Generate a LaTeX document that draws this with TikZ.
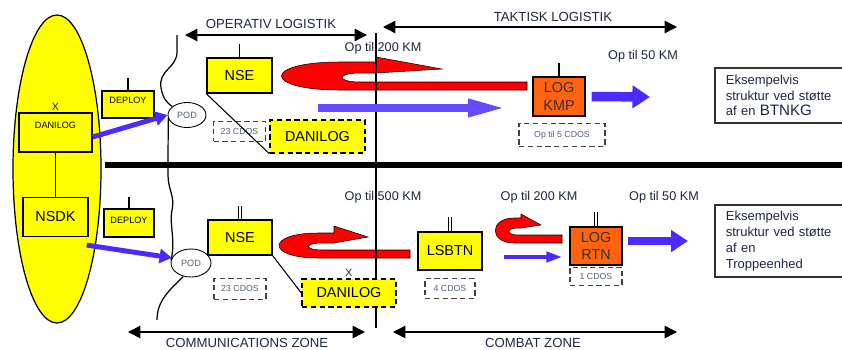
\documentclass[tikz,border=0pt]{standalone}
\usepackage{fontspec}
\setmainfont{Liberation Sans}
\usetikzlibrary{positioning,arrows.meta,calc,shapes.geometric}
\definecolor{ink}{HTML}{1F2740}
\definecolor{ink2}{HTML}{55627F}
\definecolor{lemon}{HTML}{FFFF00}
\definecolor{tangerine}{HTML}{FF6310}
\definecolor{signal}{HTML}{FF0000}
\definecolor{violet}{HTML}{4A2BFF}
\tikzset{
  ybox/.style={draw=black, line width=0.8pt, fill=lemon, inner sep=1pt,
    align=center, text=black, font=\fontsize{8.2pt}{10pt}\selectfont},
  obox/.style={draw=black, line width=0.8pt, fill=tangerine, inner sep=1pt,
    align=center, text=black!80, font=\fontsize{8.2pt}{10pt}\selectfont},
  dbox/.style={ybox, dash pattern=on 3pt off 2pt},
  sbox/.style={ybox, font=\fontsize{5.2pt}{6pt}\selectfont},
  cbox/.style={draw=black!75, line width=0.8pt, dash pattern=on 3pt off 2pt, fill=white,
    inner sep=1pt, text=ink2, font=\fontsize{5pt}{6pt}\selectfont},
  pod/.style={ellipse, draw=black, line width=0.5pt, fill=white, inner sep=0pt,
    text=ink2, font=\fontsize{5.2pt}{6pt}\selectfont},
  note/.style={draw=black!80, line width=1pt, fill=white, anchor=west, align=left,
    inner xsep=0.22cm, inner ysep=2pt, text width=2.4cm, text=ink,
    font=\fontsize{7.4pt}{9pt}\selectfont},
  zone/.style={{Triangle[length=7pt,width=7pt]}-{Triangle[length=7pt,width=7pt]}, line width=0.8pt},
  barrow/.style={-{Triangle[length=7pt,width=8pt]}, line width=2.8pt, color=violet},
  redarr/.style={fill=signal, draw=black, line width=0.3pt},
  lab/.style={font=\fontsize{7.2pt}{8pt}\selectfont, text=ink},
  zlab/.style={font=\fontsize{7.5pt}{8pt}\selectfont, text=ink},
  xlab/.style={inner sep=0.8pt, font=\fontsize{6pt}{6pt}\selectfont, text=ink},
  wave/.style={line width=0.7pt},
  tick/.style={line width=0.6pt},
  dtick/.style={draw=black, double=white, double distance=1.1pt, line width=0.45pt},
}

\begin{document}
\begin{tikzpicture}[x=0.02cm, y=-0.02cm]
  \fill[white] (0,0) rectangle (842,349);
  \useasboundingbox (0,0) rectangle (842,349);

  % left column
  \fill[lemon, draw=black, line width=0.7pt] (57,169) ellipse [x radius=44, y radius=154];
  \draw[line width=3.4pt] (105,165) -- (850,165);

  % red supply loops
  \draw[redarr] (527,82) -- (360,82) .. controls (336,82) and (336,73) .. (360,73) -- (376,73)
    -- (442,69) -- (376,57) -- (376,62) -- (340,62) .. controls (262,62) and (262,90) .. (340,90)
    -- (527,90) -- cycle;
  \draw[redarr] (410,250) -- (322,250) .. controls (304,250) and (304,243) .. (322,243) -- (334,243)
    -- (368,237) -- (334,226) -- (334,233) -- (318,233) .. controls (266,233) and (266,258) .. (318,258)
    -- (410,258) -- cycle;
  \draw[redarr] (562,235) -- (518,235) .. controls (506,235) and (506,228) .. (518,228) -- (521,228)
    -- (541,225) -- (521,214) -- (521,218) -- (514,218) .. controls (489,218) and (489,243) .. (514,243)
    -- (562,243) -- cycle;

  \draw[line width=0.7pt] (376,33) -- (376,328);

  \node[sbox, minimum width=1.46cm, minimum height=0.78cm, text height=3.7pt, text depth=8.7pt,
    label={[xlab]above:X}] (dlog1) at (55.5,132.5) {DANILOG};
  \node[ybox, minimum width=1.3cm, minimum height=0.78cm, below=0.88cm of dlog1] (nsdk) {NSDK};
  \node[sbox, minimum width=1.04cm, minimum height=0.54cm, text height=3.7pt, text depth=5.1pt]
    (deploy1) at (128,104.5) {DEPLOY};
  \node[sbox, minimum width=1.0cm, minimum height=0.56cm, text height=3.7pt, text depth=3.4pt]
    (deploy2) at (129,223) {DEPLOY};
  \node[pod, minimum width=0.76cm, minimum height=0.5cm] (pod1) at (187,115) {POD};
  \node[pod, minimum width=0.8cm, minimum height=0.56cm] (pod2) at (191,263) {POD};

  \node[ybox, minimum width=1.3cm, minimum height=0.7cm] (nse1) at (239.5,75.5) {NSE};
  \node[cbox, minimum width=1.04cm, minimum height=0.4cm, below=0.54cm of nse1] (cdos1) {23 CDOS};
  \node[ybox, minimum width=1.28cm, minimum height=0.7cm] (nse2) at (240,237.5) {NSE};
  \node[cbox, minimum width=1.04cm, minimum height=0.42cm, below=0.44cm of nse2] (cdos2) {23 CDOS};
  \node[dbox, minimum width=1.9cm, minimum height=0.66cm] (dlog2) at (317.5,136.5) {DANILOG};
  \node[dbox, minimum width=1.88cm, minimum height=0.56cm, label={[xlab]above:X}]
    (dlog3) at (349,293) {DANILOG};

  \node[ybox, minimum width=1.28cm, minimum height=0.76cm] (lsbtn) at (450,251) {LSBTN};
  \node[cbox, minimum width=1.0cm, minimum height=0.4cm, below=0.14cm of lsbtn] (cdos4) {4 CDOS};
  \node[obox, minimum width=1.04cm, minimum height=0.78cm] (kmp) at (559,96.5) {LOG\\KMP};
  \node[cbox, minimum width=1.72cm, minimum height=0.46cm, below=0.12cm of kmp, xshift=0.06cm]
    (cdos5) {Op til 5 CDOS};
  \node[obox, minimum width=1.04cm, minimum height=0.76cm] (rtn) at (596,246) {LOG\\RTN};
  \node[cbox, minimum width=1.04cm, minimum height=0.36cm, below=0.02cm of rtn] (cdos6) {1 CDOS};

  \node[note, minimum height=1.1cm] (note1) at (714,95.5)
    {Eksempelvis\\struktur ved støtte\\af en {\fontsize{8.6pt}{9pt}\selectfont BTNKG}};
  \node[note, minimum height=1.44cm] (note2) at (714,241)
    {Eksempelvis\\struktur ved støtte\\af en\\Troppeenhed};

  \node[zlab] (oplog) at (271,24) {OPERATIV LOGISTIK};
  \node[zlab] (taklog) at (553,17) {TAKTISK LOGISTIK};
  \node[zlab] (comz) at (247,343) {COMMUNICATIONS ZONE};
  \node[zlab] (comb) at (533,343) {COMBAT ZONE};
  \node[lab] (km1) at (383,48) {Op til 200 KM};
  \node[lab] (km2) at (643,56) {Op til 50 KM};
  \node[lab] (km3) at (383,197) {Op til 500 KM};
  \node[lab] (km4) at (539,197) {Op til 200 KM};
  \node[lab] (km5) at (664,197) {Op til 50 KM};

  \coordinate (op-l) at (185,35);  \coordinate (op-r) at (367,35);
  \coordinate (tk-l) at (383,27);  \coordinate (tk-r) at (677,27);
  \coordinate (cz-l) at (128,332); \coordinate (cz-r) at (365,332);
  \coordinate (cb-l) at (393,332); \coordinate (cb-r) at (677,332);
  \draw[zone] (op-l) -- (op-r);
  \draw[zone] (tk-l) -- (tk-r);
  \draw[zone] (cz-l) -- (cz-r);
  \draw[zone] (cb-l) -- (cb-r);

  % zone border
  \coordinate (wtop) at (177,35);
  \coordinate (wbot) at (157,320);
  \draw[wave] (wtop) -- (177,52) .. controls (177,68) and (158,70) .. (161,88)
    .. controls (163,98) and (166,102) .. (pod1.150);
  \draw[wave] (pod1.190) -- (168,175) .. controls (168,190) and (175,195) .. (172,210)
    .. controls (169,225) and (176,240) .. (pod2.172);
  \draw[wave] (pod2.240) .. controls (170,290) and (157,300) .. (wbot);

  \draw[tick] (dlog1.south) -- (nsdk.north);
  \draw[tick] (deploy1.north) -- ++(0,-12);
  \draw[tick] (deploy2.north) -- ++(0,-11);
  \draw[tick] (nse1.north) -- ++(0,-13);
  \draw[tick] (kmp.north) -- ++(0,-13);
  \draw[dtick] (nse2.north) -- ++(0,-13);
  \draw[dtick] (lsbtn.north) -- ++(0,-14);
  \draw[dtick] (rtn.north) -- ++(0,-14);
  \draw[tick] (nse1.south west) -- (dlog2.south west);
  \draw[tick] (nse2.south east) -- (dlog3.west);

  \coordinate (bl-a) at (318,108);
  \coordinate (bl-b) at (505,108);
  \coordinate (kmp-out) at (650,97);
  \coordinate (rtn-out) at (688,241);
  \draw[barrow] ([yshift=-0.09cm]dlog1.east) -- (pod1.west);
  \draw[barrow] ($(nsdk.south east)+(-2,8)$) -- (pod2.165);
  \draw[-{Triangle[length=21pt,width=9.6pt]}, line width=4pt, violet!85] (bl-a) -- (bl-b);
  \draw[-{Triangle[length=10pt,width=12.5pt]}, line width=5.4pt, violet] ($(kmp.east)+(6,0)$) -- (kmp-out);
  \draw[-{Triangle[length=9pt,width=5.7pt]}, line width=2.2pt, violet]
    ($(lsbtn.east)+(21,6)$) -- ($(rtn.west)+(-7,11)$);
  \draw[-{Triangle[length=9.6pt,width=12pt]}, line width=5.1pt, violet] ($(rtn.east)+(5,-5)$) -- (rtn-out);
\end{tikzpicture}
\end{document}
